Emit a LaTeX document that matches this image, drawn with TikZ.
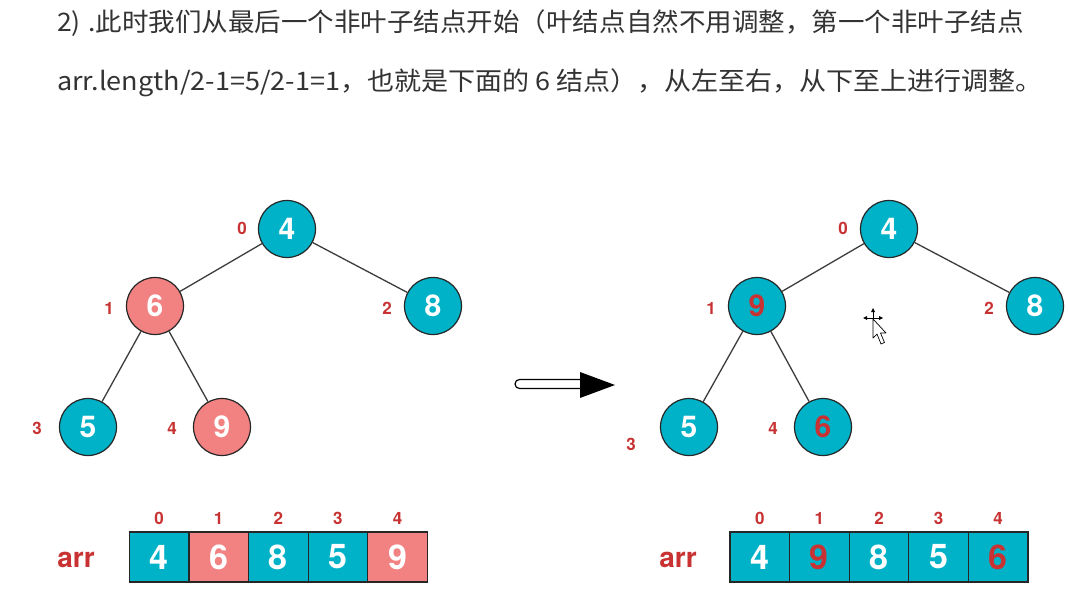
\documentclass[tikz,border=0pt]{standalone}
\usepackage{fontspec}
\usepackage{graphicx}
\setmainfont{TeX Gyre Heros}
\newfontfamily\cjk{Noto Sans CJK SC}
\definecolor{tealc}{RGB}{0,178,200}
\definecolor{pinkc}{RGB}{242,130,130}
\definecolor{redc}{RGB}{200,50,50}
\definecolor{edgec}{RGB}{60,60,60}
\tikzset{
  tnode/.style={circle, draw=black!85, line width=1.2pt, minimum size=57pt, inner sep=0pt, fill=tealc, text=white, font=\fontsize{30}{30}\selectfont\bfseries},
  pnode/.style={tnode, fill=pinkc},
  rtext/.style={text=redc},
  idx/.style={text=redc, font=\fontsize{17}{17}\selectfont\bfseries, inner sep=0pt},
  cell/.style={rectangle, draw=black!85, line width=1.2pt, minimum width=59.6pt, minimum height=50pt, inner sep=0pt, fill=tealc, text=white, font=\fontsize{34}{34}\selectfont\bfseries},
  pcell/.style={cell, fill=pinkc},
  arrlab/.style={text=redc, font=\fontsize{28}{28}\selectfont\bfseries, inner sep=0pt},
  edge/.style={draw=edgec, line width=1.3pt},
  head/.style={anchor=west, inner sep=0pt, text=black!80, font=\cjk\fontsize{25.5}{25.5}\selectfont}
}
\begin{document}
\begin{tikzpicture}[x=1pt,y=-1pt]
\useasboundingbox[fill=white] (0,0) rectangle (1068,589);
% header
\node[head] (h1) at (57,23) {\scalebox{1.04}[1]{2)\;.此时我们从最后一个非叶子结点开始（叶结点自然不用调整，第一个非叶子结点}};
\node[head] (h2) at (57,83) {\scalebox{1.06}[1]{arr.length/2-1=5/2-1=1，也就是下面的 6 结点），从左至右，从下至上进行调整。}};
% left tree
\node[tnode] (l0) at (287,229) {4};
\node[pnode] (l1) at (155,306) {6};
\node[tnode] (l2) at (433,306) {8};
\node[tnode] (l3) at (88,427) {5};
\node[pnode] (l4) at (222,427) {9};
\draw[edge] (l0) -- (l1);
\draw[edge] (l0) -- (l2);
\draw[edge] (l1) -- (l3);
\draw[edge] (l1) -- (l4);
\node[idx] (li0) at (242,228) {0};
\node[idx] (li1) at (109,308) {1};
\node[idx] (li2) at (387,308) {2};
\node[idx] (li3) at (37,428) {3};
\node[idx] (li4) at (172,428) {4};
% right tree
\node[tnode] (r0) at (889,229) {4};
\node[tnode, rtext] (r1) at (757,306) {9};
\node[tnode] (r2) at (1035,306) {8};
\node[tnode] (r3) at (689,427) {5};
\node[tnode, rtext] (r4) at (823,427) {6};
\draw[edge] (r0) -- (r1);
\draw[edge] (r0) -- (r2);
\draw[edge] (r1) -- (r3);
\draw[edge] (r1) -- (r4);
\node[idx] (ri0) at (843,228) {0};
\node[idx] (ri1) at (711,308) {1};
\node[idx] (ri2) at (989,308) {2};
\node[idx] (ri3) at (631,444) {3};
\node[idx] (ri4) at (773,428) {4};
% big arrow
\draw[line width=1.2pt, fill=white, rounded corners=4.5pt] (515,379.5) rectangle (584,388.5);
\fill[black] (580,372) -- (615,385) -- (580,398) -- cycle;
% cursor
\begin{scope}[line width=0.7pt]
\draw[black] (865,318) -- (881,318);
\draw[black] (873,310) -- (873,326);
\fill[black] (863,318) -- (867,316) -- (867,320) -- cycle;
\fill[black] (883,318) -- (879,316) -- (879,320) -- cycle;
\fill[black] (873,308) -- (871,312) -- (875,312) -- cycle;
\draw[black, fill=white, line join=round] (873,319) -- (873,338) -- (877,334) -- (881,344) -- (884.5,342.5) -- (880.5,333) -- (886,333) -- cycle;
\end{scope}
% left array
\node[arrlab] (la) at (76,560) {arr};
\node[cell] (a0) at (159.1,557) {4};
\node[pcell] (a1) at (218.7,557) {6};
\node[cell] (a2) at (278.3,557) {8};
\node[cell] (a3) at (337.9,557) {5};
\node[pcell] (a4) at (397.5,557) {9};
\node[idx] (ai0) at (159.1,518) {0};
\node[idx] (ai1) at (218.7,518) {1};
\node[idx] (ai2) at (278.3,518) {2};
\node[idx] (ai3) at (337.9,518) {3};
\node[idx] (ai4) at (397.5,518) {4};
% right array
\node[arrlab] (ra) at (678,560) {arr};
\node[cell] (b0) at (759.8,557) {4};
\node[cell, rtext] (b1) at (819.4,557) {9};
\node[cell] (b2) at (879,557) {8};
\node[cell] (b3) at (938.6,557) {5};
\node[cell, rtext] (b4) at (998.2,557) {6};
\node[idx] (bi0) at (759.8,518) {0};
\node[idx] (bi1) at (819.4,518) {1};
\node[idx] (bi2) at (879,518) {2};
\node[idx] (bi3) at (938.6,518) {3};
\node[idx] (bi4) at (998.2,518) {4};
\end{tikzpicture}
\end{document}
